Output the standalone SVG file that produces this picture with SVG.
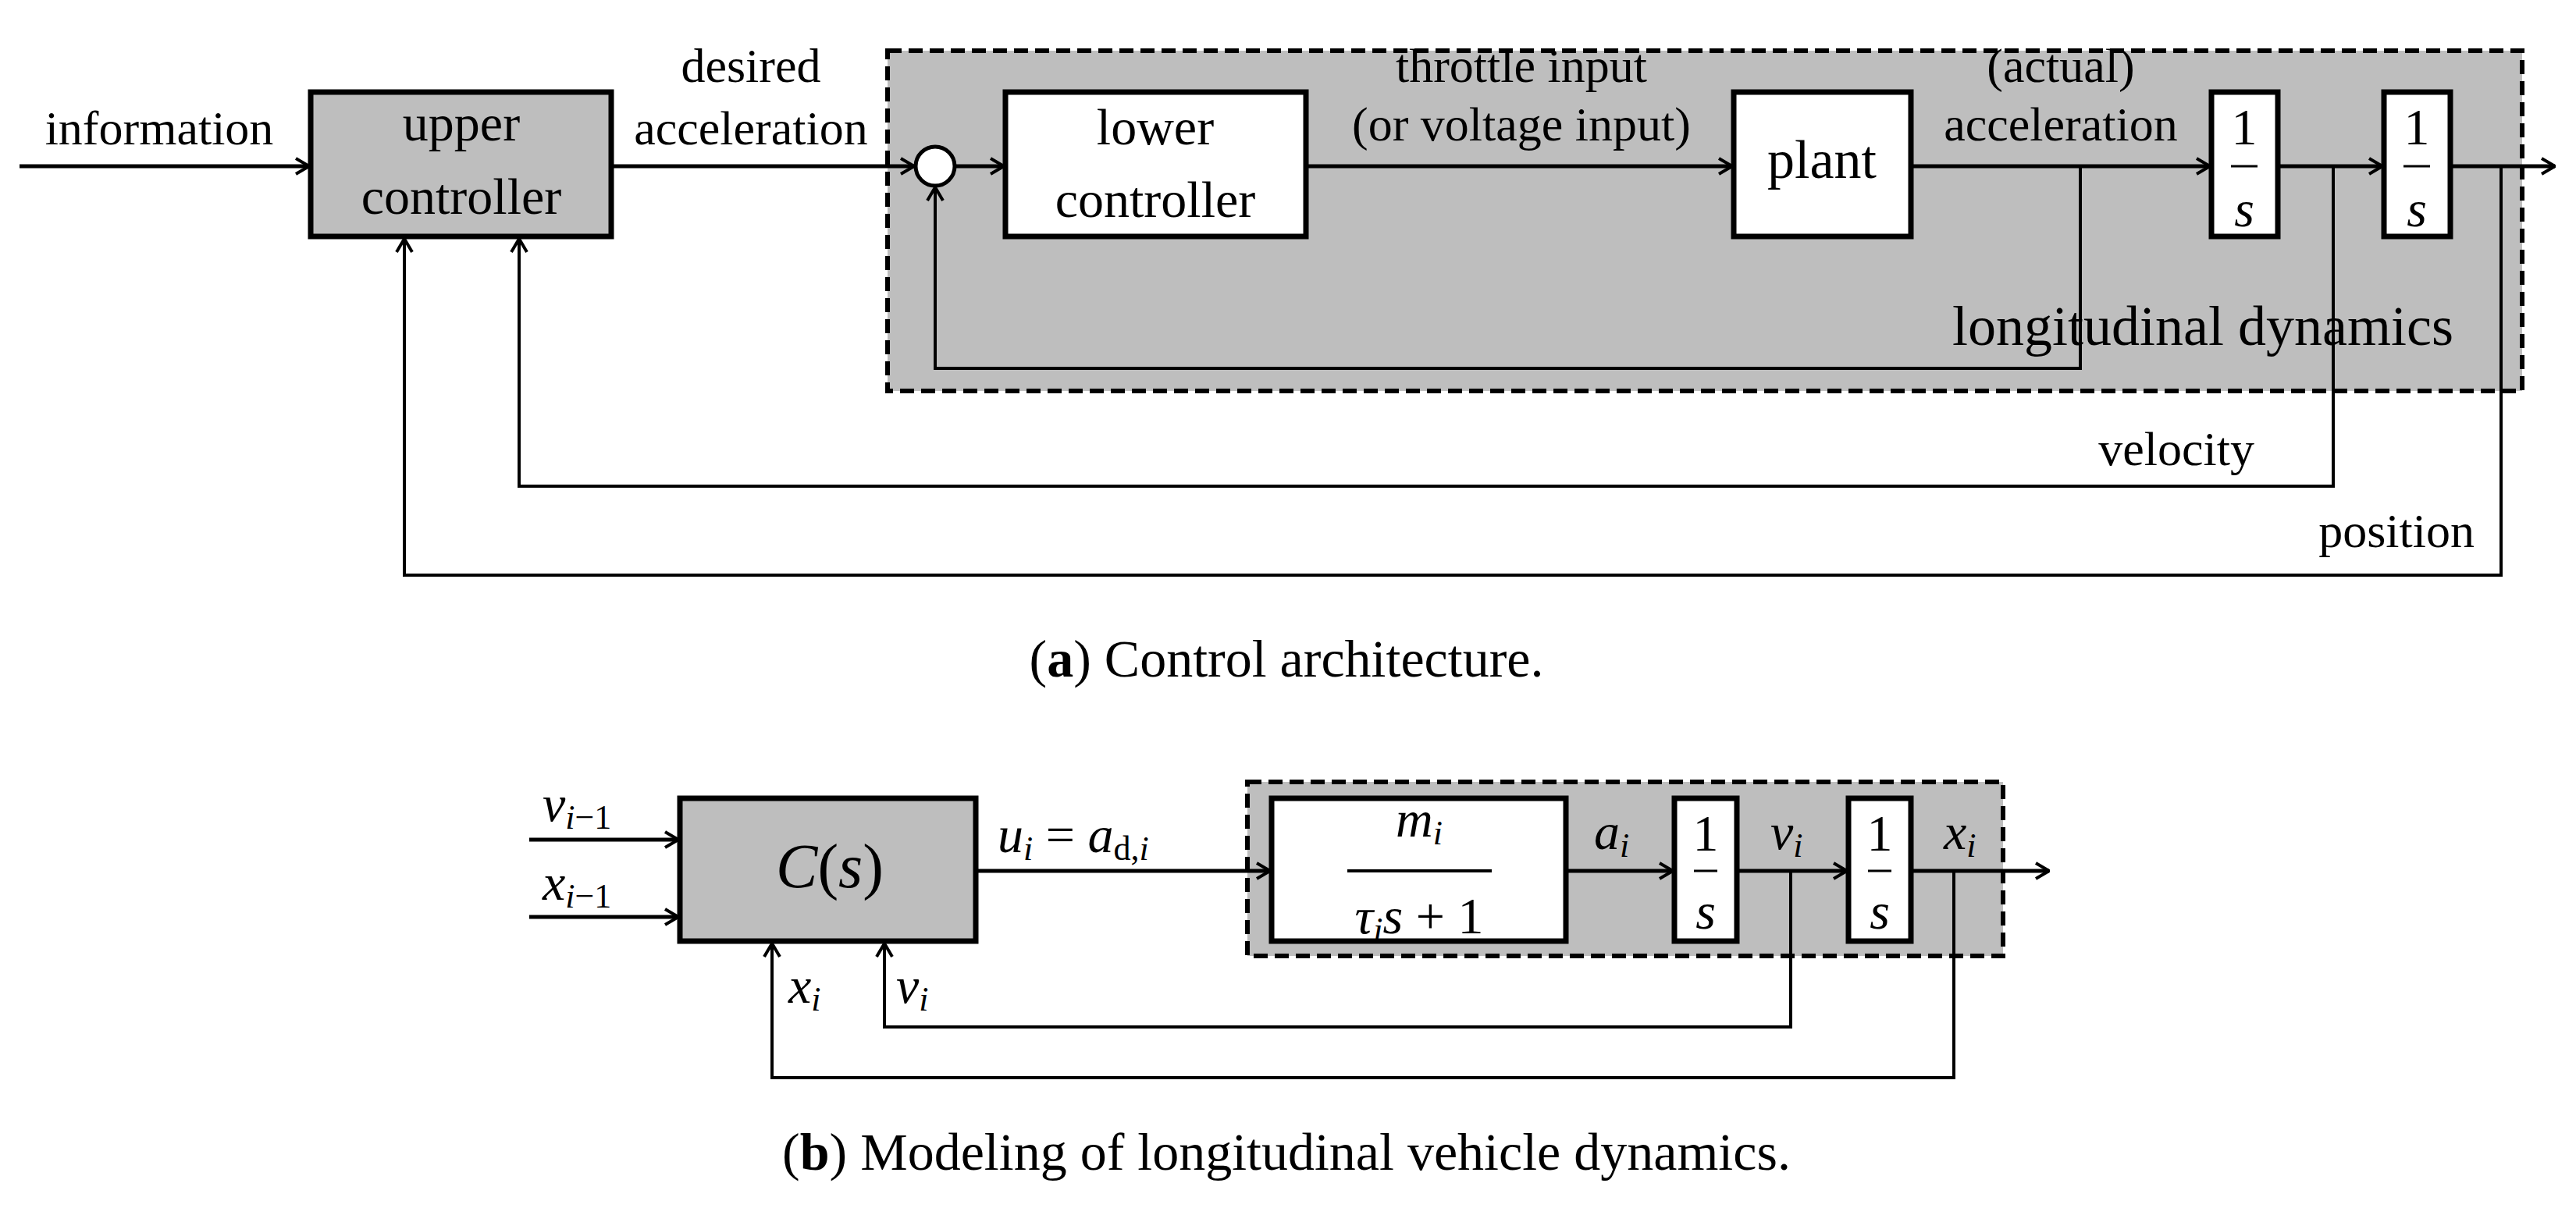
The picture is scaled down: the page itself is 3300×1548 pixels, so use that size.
<svg xmlns="http://www.w3.org/2000/svg" width="3300" height="1548" viewBox="0 0 3300 1548">
<style>
text{font-family:"Liberation Serif","DejaVu Serif",serif;fill:#000}
.t{font-size:62px}
.m{font-size:66px;font-style:italic}
.r{font-size:66px}
.blk{stroke:#000;stroke-width:7}
.ln{fill:none;stroke:#000;stroke-width:5}
.fb{fill:none;stroke:#000;stroke-width:4}
.dash{fill:#bebebe;stroke:#000;stroke-width:6;stroke-dasharray:18 9}
</style>
<defs>
<marker id="ar" viewBox="0 0 20 24" refX="19" refY="12" markerWidth="20" markerHeight="24" markerUnits="userSpaceOnUse" orient="auto">
<path d="M2,2 L19,12 L2,22" fill="none" stroke="#000" stroke-width="4"/>
</marker>
</defs>
<rect fill="#fff" width="3300" height="1548"/>
<g id="ld-box"><rect class="dash" x="1137" y="65" width="2094" height="436"/><text x="3143" y="442" text-anchor="end" style="font-size:72px">longitudinal dynamics</text></g>
<g id="upper"><rect class="blk" fill="#bebebe" x="398" y="118" width="385" height="185"/><text class="t" x="591" y="180" text-anchor="middle" style="font-size:66px">upper</text><text x="591" y="274" text-anchor="middle" style="font-size:66px">controller</text></g>
<g id="sum"><circle cx="1198" cy="213" r="25" fill="#fff" stroke="#000" stroke-width="5"/></g>
<g id="lower"><rect class="blk" fill="#fff" x="1288" y="118" width="385" height="185"/><text x="1480" y="185" text-anchor="middle" style="font-size:66px">lower</text><text x="1480" y="278" text-anchor="middle" style="font-size:66px">controller</text></g>
<g id="plant"><rect class="blk" fill="#fff" x="2221" y="118" width="227" height="185"/><text x="2334" y="228" text-anchor="middle" style="font-size:70px">plant</text></g>
<g id="int1"><rect class="blk" fill="#fff" x="2833" y="118" width="85" height="185"/><text class="r" x="2875" y="185" text-anchor="middle">1</text><line x1="2858" y1="213" x2="2892" y2="213" stroke="#000" stroke-width="3"/><text class="m" x="2875" y="290" text-anchor="middle">s</text></g>
<g id="int2"><rect class="blk" fill="#fff" x="3054" y="118" width="85" height="185"/><text class="r" x="3096" y="185" text-anchor="middle">1</text><line x1="3079" y1="213" x2="3113" y2="213" stroke="#000" stroke-width="3"/><text class="m" x="3096" y="290" text-anchor="middle">s</text></g>
<g id="labels-a">
<text class="t" x="204" y="185" text-anchor="middle">information</text>
<text class="t" x="962" y="105" text-anchor="middle">desired</text>
<text class="t" x="962" y="185" text-anchor="middle">acceleration</text>
<text class="t" x="1949" y="105" text-anchor="middle">throttle input</text>
<text class="t" x="1949" y="180" text-anchor="middle">(or voltage input)</text>
<text class="t" x="2640" y="105" text-anchor="middle">(actual)</text>
<text class="t" x="2640" y="180" text-anchor="middle">acceleration</text>
<text class="t" x="2888" y="596" text-anchor="end">velocity</text>
<text class="t" x="3170" y="701" text-anchor="end">position</text>
<text x="1648" y="867" text-anchor="middle" style="font-size:68px"><tspan>(</tspan><tspan font-weight="bold">a</tspan><tspan>) Control architecture.</tspan></text>
</g>
<g id="connectors-a">
<path class="ln" d="M25,213 H396" marker-end="url(#ar)"/>
<path class="ln" d="M783,213 H1171" marker-end="url(#ar)"/>
<path class="ln" d="M1223,213 H1286" marker-end="url(#ar)"/>
<path class="ln" d="M1673,213 H2219" marker-end="url(#ar)"/>
<path class="ln" d="M2448,213 H2831" marker-end="url(#ar)"/>
<path class="ln" d="M2918,213 H3052" marker-end="url(#ar)"/>
<path class="ln" d="M3139,213 H3273" marker-end="url(#ar)"/>
<path class="fb" d="M2665,213 V472 H1198 V240" marker-end="url(#ar)"/>
<path class="fb" d="M2989,213 V623 H665 V306" marker-end="url(#ar)"/>
<path class="fb" d="M3204,213 V737 H518 V306" marker-end="url(#ar)"/>
</g>
<g id="dyn-b"><rect class="dash" x="1598" y="1002" width="968" height="223"/></g>
<g id="cs"><rect class="blk" fill="#bebebe" x="871" y="1023" width="379" height="183"/><text x="1063" y="1137" text-anchor="middle" style="font-size:80px"><tspan font-style="italic">C</tspan>(<tspan font-style="italic">s</tspan>)</text></g>
<g id="tf"><rect class="blk" fill="#fff" x="1629" y="1023" width="377" height="183"/><text class="m" x="1818" y="1072" text-anchor="middle">m<tspan font-size="44" dy="10">i</tspan></text><line x1="1726" y1="1116" x2="1911" y2="1116" stroke="#000" stroke-width="4"/><text class="m" x="1818" y="1196" text-anchor="middle">τ<tspan font-size="44" dy="10">i</tspan><tspan dy="-10">s</tspan><tspan font-style="normal"> + 1</tspan></text></g>
<g id="int3"><rect class="blk" fill="#fff" x="2145" y="1023" width="80" height="183"/><text class="r" x="2185" y="1090" text-anchor="middle">1</text><line x1="2170" y1="1116" x2="2200" y2="1116" stroke="#000" stroke-width="3"/><text class="m" x="2185" y="1190" text-anchor="middle">s</text></g>
<g id="int4"><rect class="blk" fill="#fff" x="2368" y="1023" width="80" height="183"/><text class="r" x="2408" y="1090" text-anchor="middle">1</text><line x1="2393" y1="1116" x2="2423" y2="1116" stroke="#000" stroke-width="3"/><text class="m" x="2408" y="1190" text-anchor="middle">s</text></g>
<g id="labels-b">
<text class="m" x="695" y="1052">v<tspan font-size="44" dy="10">i</tspan><tspan font-size="44" font-style="normal">−1</tspan></text>
<text class="m" x="695" y="1153">x<tspan font-size="44" dy="10">i</tspan><tspan font-size="44" font-style="normal">−1</tspan></text>
<text class="m" x="1278" y="1092">u<tspan font-size="44" dy="10">i</tspan><tspan dy="-10" font-style="normal"> = </tspan><tspan>a</tspan><tspan font-size="44" dy="10" font-style="normal">d,</tspan><tspan font-size="44">i</tspan></text>
<text class="m" x="2042" y="1088">a<tspan font-size="44" dy="10">i</tspan></text>
<text class="m" x="2268" y="1088">v<tspan font-size="44" dy="10">i</tspan></text>
<text class="m" x="2490" y="1088">x<tspan font-size="44" dy="10">i</tspan></text>
<text class="m" x="1010" y="1285">x<tspan font-size="44" dy="10">i</tspan></text>
<text class="m" x="1148" y="1285">v<tspan font-size="44" dy="10">i</tspan></text>
<text x="1648" y="1499" text-anchor="middle" style="font-size:68px"><tspan>(</tspan><tspan font-weight="bold">b</tspan><tspan>) Modeling of longitudinal vehicle dynamics.</tspan></text>
</g>
<g id="connectors-b">
<path class="ln" d="M678,1076 H869" marker-end="url(#ar)"/>
<path class="ln" d="M678,1175 H869" marker-end="url(#ar)"/>
<path class="ln" d="M1250,1116 H1627" marker-end="url(#ar)"/>
<path class="ln" d="M2006,1116 H2143" marker-end="url(#ar)"/>
<path class="ln" d="M2225,1116 H2366" marker-end="url(#ar)"/>
<path class="ln" d="M2448,1116 H2625" marker-end="url(#ar)"/>
<path class="fb" d="M2294,1116 V1316 H1133 V1209" marker-end="url(#ar)"/>
<path class="fb" d="M2503,1116 V1381 H989 V1209" marker-end="url(#ar)"/>
</g>
</svg>
